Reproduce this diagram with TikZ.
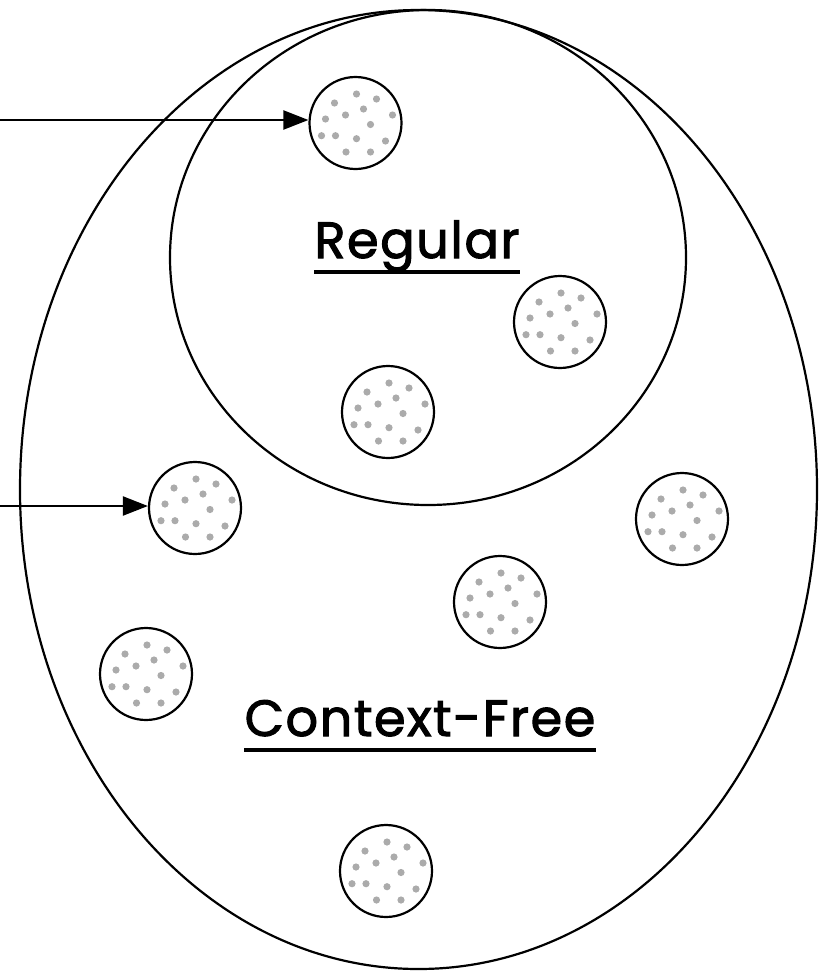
\documentclass[tikz,border=0pt]{standalone}
\usepackage{fontspec}
\setmainfont{Poppins}
\newfontfamily\labelfont{Poppins}[FakeBold=2,LetterSpace=3]
\usetikzlibrary{arrows.meta}
\begin{document}
\begin{tikzpicture}[x=1pt,y=-1pt,
  outline/.style={draw=black,line width=2.2pt},
  language/.style={circle,outline,minimum size=92pt,inner sep=0pt},
  pointer/.style={draw=black,line width=2.2pt,-{Triangle[length=25pt,width=19pt]}},
  classname/.style={inner sep=0pt,font=\labelfont\fontsize{51}{61}\selectfont},
  rule/.style={line width=4pt},
  speckle/.pic={
    \foreach \px/\py in {1/-29,21/-24,-21/-20,8/-14,37/-8,-10/-8,-30/-4,
                         15/1.5,-34/12.7,-20/12.7,1/15.7,30/18,-9.5/29,15/29}
      \fill[black!33] (\px,\py) circle (3.6pt);
  }]
\useasboundingbox (0,0) rectangle (825,972);

% class boundaries
\draw[outline] (418.5,489.5) ellipse [x radius=398.5, y radius=479.5];
\draw[outline] (428,257.5) ellipse [x radius=258, y radius=247.5];

% individual languages
\foreach \n/\cx/\cy in {l1/355.5/123, l2/195/508, l3/560/322, l4/388/412,
                        l5/682/519, l6/500/602, l7/146/674, l8/386/871} {
  \node[language] (\n) at (\cx,\cy) {};
  \pic at (\cx,\cy) {speckle};
}

% class labels
\node[classname,anchor=base] (reg) at (417,258) {Regular};
\draw[rule] ([yshift=-14pt]reg.base west) -- ([yshift=-14pt]reg.base east);
\node[classname,anchor=base] (cfl) at (420,736) {Context-Free};
\draw[rule] ([yshift=-14pt]cfl.base west) -- ([yshift=-14pt]cfl.base east);

% pointers from outside
\coordinate (s1) at (0,120);
\coordinate (s2) at (0,506);
\draw[pointer] (s1) -- (s1 -| l1.west);
\draw[pointer] (s2) -- (s2 -| l2.west);
\end{tikzpicture}
\end{document}
